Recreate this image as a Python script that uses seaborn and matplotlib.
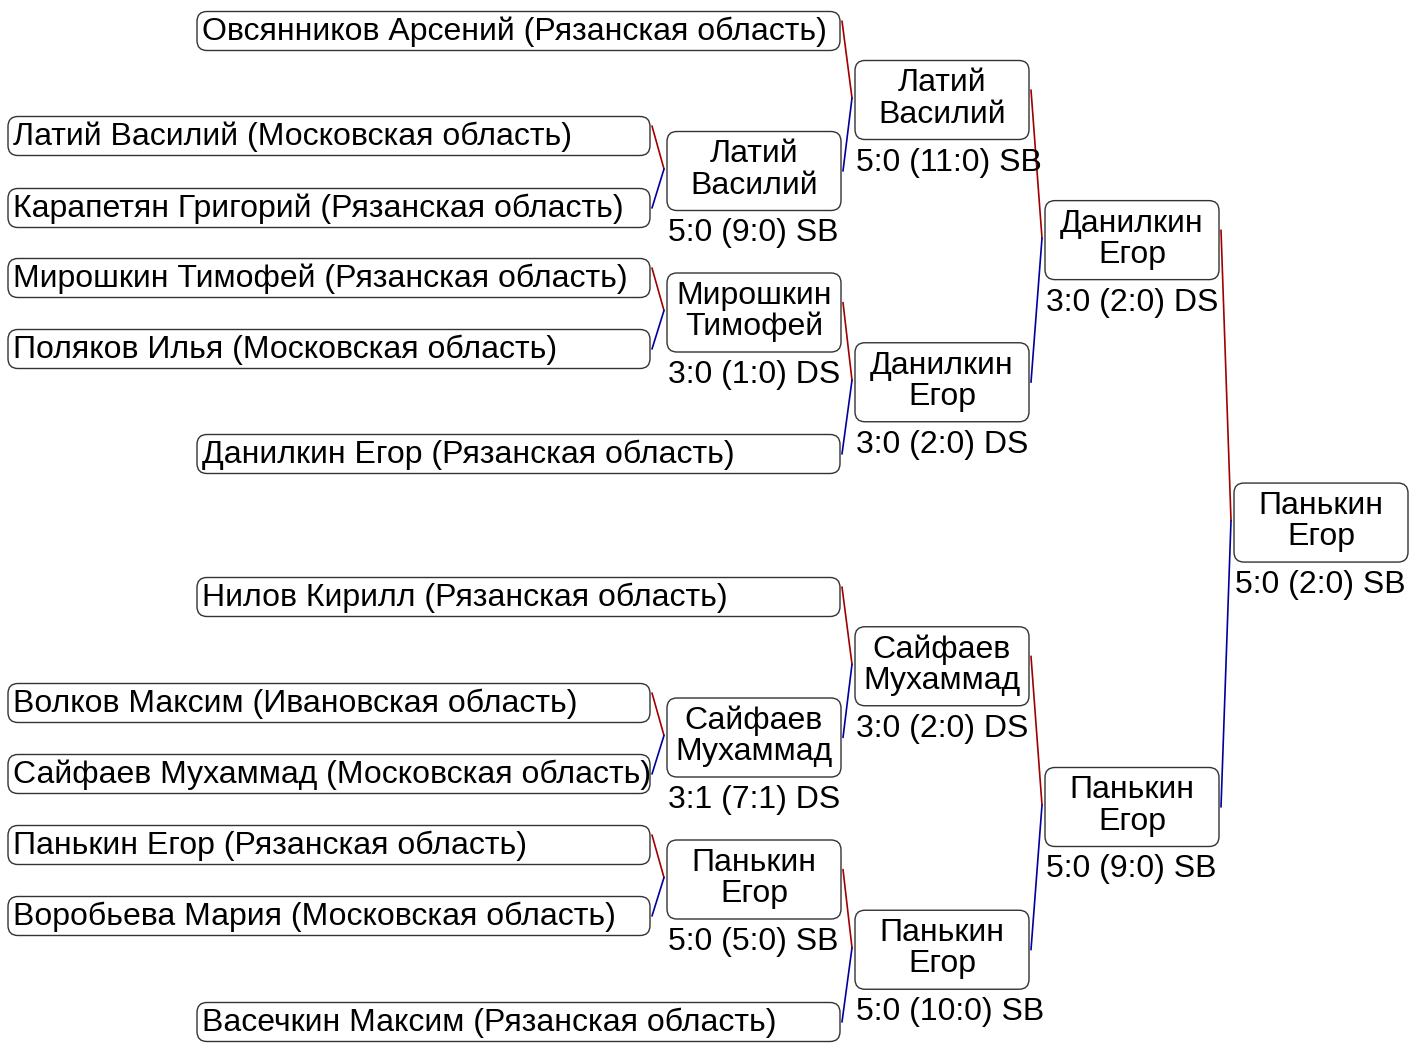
import pandas as pd
import matplotlib.pyplot as plt
import seaborn as sns
from matplotlib.patches import FancyBboxPatch

# Участники (первый круг / прямые проходы)
entry_names = ["Овсянников Арсений", "Латий Василий", "Карапетян Григорий",
               "Мирошкин Тимофей", "Поляков Илья", "Данилкин Егор",
               "Нилов Кирилл", "Волков Максим", "Сайфаев Мухаммад",
               "Панькин Егор", "Воробьева Мария", "Васечкин Максим"]
entry_regions = ["Рязанская область", "Московская область", "Рязанская область",
                 "Рязанская область", "Московская область", "Рязанская область",
                 "Рязанская область", "Ивановская область", "Московская область",
                 "Рязанская область", "Московская область", "Рязанская область"]

# Победители и счёт по раундам
r1_winners = ["Латий\nВасилий", "Мирошкин\nТимофей", "Сайфаев\nМухаммад", "Панькин\nЕгор"]
r1_scores = ["5:0 (9:0) SB", "3:0 (1:0) DS", "3:1 (7:1) DS", "5:0 (5:0) SB"]
r2_winners = ["Латий\nВасилий", "Данилкин\nЕгор", "Сайфаев\nМухаммад", "Панькин\nЕгор"]
r2_scores = ["5:0 (11:0) SB", "3:0 (2:0) DS", "3:0 (2:0) DS", "5:0 (10:0) SB"]
r3_winners = ["Данилкин\nЕгор", "Панькин\nЕгор"]
r3_scores = ["3:0 (2:0) DS", "5:0 (9:0) SB"]
final_winner = ["Панькин\nЕгор"]
final_scores = ["5:0 (2:0) SB"]

# Раскладка (пиксели)
entry_cy = [31, 136, 208, 278, 349, 454, 597, 703, 774, 845, 916, 1022]
entry_bye = [True, False, False, False, False, True, True, False, False, False, False, True]
ENTRY_H = 39
R1_X, R2_X, R3_X, F_X = 667, 855, 1045, 1234
BOX_W, BOX_H = 174, 79

sns.set_theme(style="white")
plt.rcParams["font.family"] = ["Liberation Sans", "DejaVu Sans"]
plt.rcParams["text.color"] = "black"

fig = plt.figure(figsize=(14.09, 10.46), dpi=100)
ax = fig.add_axes([0, 0, 1, 1])
ax.set_xlim(0, 1409)
ax.set_ylim(1046, 0)
ax.axis("off")

FS = 23


def draw_box(x0, x1, cy, h):
    ax.add_patch(FancyBboxPatch((x0, cy - h / 2), x1 - x0, h,
                                boxstyle="round,pad=0,rounding_size=10",
                                fc="white", ec="#333333", lw=1.0, zorder=2))


# Прямоугольники участников
entry_right = []
for name, reg, cy, bye in zip(entry_names, entry_regions, entry_cy, entry_bye):
    x0, x1 = (197, 840) if bye else (8, 650)
    entry_right.append(x1)
    draw_box(x0, x1, cy, ENTRY_H)
    ax.text(x0 + 5, cy + 1, f"{name} ({reg})", fontsize=FS, va="center",
            ha="left", color="black", zorder=3)

segs = []


def connect(up, low, parent_x, parent_cy):
    # up / low: (x_right, cy)
    mx, my = parent_x - 3, parent_cy - 2
    segs.append(dict(seg=len(segs), side="win", x=up[0] + 2, y=up[1] - 10))
    segs.append(dict(seg=len(segs) - 1, side="win", x=mx, y=my))
    segs.append(dict(seg=len(segs), side="lose", x=mx, y=my))
    segs.append(dict(seg=len(segs) - 1, side="lose", x=low[0] + 2, y=low[1]))


def draw_round(x, winners, scores, children):
    nodes = []
    for w, s, (up, low) in zip(winners, scores, children):
        cy = (up[1] + low[1]) / 2 - 1
        connect(up, low, x, cy)
        draw_box(x, x + BOX_W, cy, BOX_H)
        ax.text(x + BOX_W / 2, cy - 1, w, fontsize=FS, ha="center", va="center",
                linespacing=1.05, color="black", zorder=3)
        ax.text(x + 1, cy + BOX_H / 2 + 23, s, fontsize=FS, ha="left",
                va="center", color="black", zorder=3)
        nodes.append((x + BOX_W, cy))
    return nodes


ent = list(zip(entry_right, entry_cy))
r1 = draw_round(R1_X, r1_winners, r1_scores,
                [(ent[1], ent[2]), (ent[3], ent[4]), (ent[7], ent[8]), (ent[9], ent[10])])
r2 = draw_round(R2_X, r2_winners, r2_scores,
                [(ent[0], r1[0]), (r1[1], ent[5]), (ent[6], r1[2]), (r1[3], ent[11])])
r3 = draw_round(R3_X, r3_winners, r3_scores, [(r2[0], r2[1]), (r2[2], r2[3])])
fin = draw_round(F_X, final_winner, final_scores, [(r3[0], r3[1])])

df = pd.DataFrame(segs)
sns.lineplot(data=df, x="x", y="y", units="seg", hue="side", estimator=None,
             sort=False, palette={"win": "#a00000", "lose": "#0000a0"},
             linewidth=1.2, legend=False, ax=ax, zorder=1)
ax.set_xlim(0, 1409)
ax.set_ylim(1046, 0)
ax.axis("off")

fig.savefig("out.png", dpi=100, facecolor="white")
